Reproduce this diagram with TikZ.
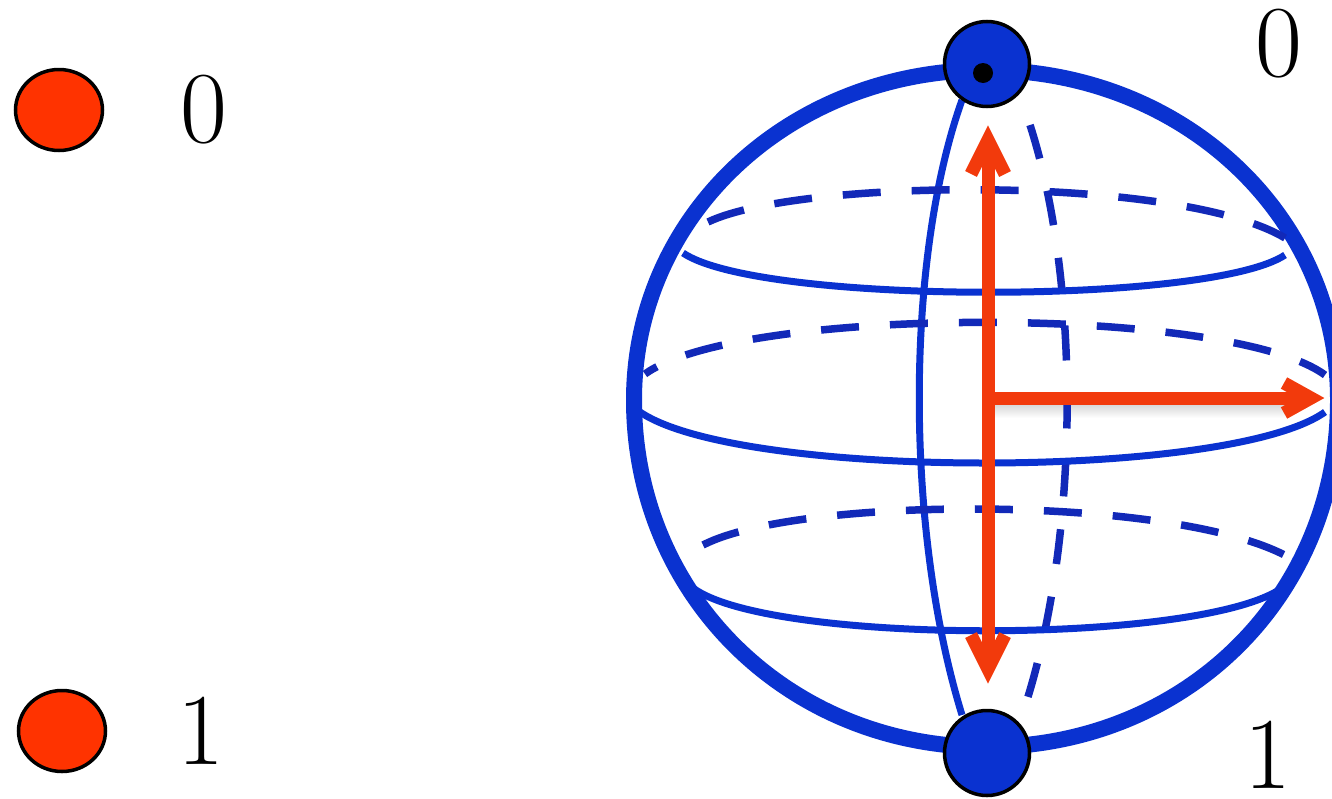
\documentclass[tikz,border=0pt]{standalone}
\usepackage{fontspec}
\setmainfont{Latin Modern Roman}
\usetikzlibrary{shapes.geometric}
\definecolor{sblue}{HTML}{0A32D0}
\definecolor{dblue}{HTML}{1229B8}
\definecolor{sred}{HTML}{F23A0C}
\definecolor{dotred}{HTML}{FF3300}
\tikzset{
 x=1pt,y=-1pt,
 outer/.style={draw=sblue,line width=16pt},
 thinline/.style={draw=sblue,line width=7pt},
 dsh/.style={draw=dblue,line width=7.5pt,dash pattern=on 38pt off 31pt},
 mdsh/.style={draw=dblue,line width=7.5pt,dash pattern=on 35pt off 33pt},
 pole/.style={circle,draw=black,line width=3.5pt,fill=sblue,minimum size=85pt,inner sep=0pt},
 bit/.style={ellipse,draw=black,line width=3.5pt,fill=dotred,minimum width=87pt,minimum height=81pt,inner sep=0pt},
 lab/.style={inner sep=0pt,font=\fontsize{102}{102}\selectfont},
 arr/.style={draw=sred,line width=13pt},
 barb/.style={draw=sred,line width=13pt,miter limit=10},
}
\begin{document}
\begin{tikzpicture}
\useasboundingbox (0,0) rectangle (1332,798);
\node[bit] (b0) at (59,110) {};
\node[bit] (b1) at (62,731) {};
\node[lab] (l0) at (204,110) {0};
\node[lab] (l1) at (201,731) {1};
\node[lab] (t0) at (1279,44) {0};
\node[lab] (t1) at (1268,755) {1};
\coordinate (c) at (988,398);
\shade[top color=gray!30,bottom color=white] (995,405) rectangle (1285,418);
\draw[outer] (634,400) .. controls (634,215) and (790,70) .. (986,70)
  .. controls (1182,70) and (1338,215) .. (1338,400)
  .. controls (1338,598) and (1184,747) .. (986,747)
  .. controls (788,747) and (634,595) .. (634,400) -- cycle;
% meridians
\draw[thinline] (962,100) .. controls (905,260) and (905,530) .. (962,715);
\draw[mdsh] (1030,125) .. controls (1080,280) and (1080,530) .. (1027,700);
% latitude back
\draw[dsh] (708,222) .. controls (800,178) and (1180,175) .. (1285,238);
\draw[dsh,dash phase=24pt] (645,374) .. controls (740,305) and (1230,305) .. (1325,375);
\draw[dsh] (703,545) .. controls (800,495) and (1180,495) .. (1290,558);
% latitude front
\draw[thinline] (683,253) .. controls (760,305) and (1210,305) .. (1285,255);
\draw[thinline] (640,412) .. controls (740,480) and (1230,480) .. (1325,412);
\draw[thinline] (693,588) .. controls (770,645) and (1200,645) .. (1282,588);
\node[pole] (np) at (987,64) {};
\node[pole] (sp) at (987,753) {};
\fill[black] (983,73) circle (10);
\coordinate (up) at (988,140);
\coordinate (dn) at (988,669);
\coordinate (rt) at (1311,398);
\draw[arr] (c) -- (up);
\draw[arr] (c) -- (dn);
\draw[arr] (c) -- (rt);
\draw[barb] (971,174) -- (up) -- (1005,174);
\draw[barb] (971,635) -- (dn) -- (1005,635);
\draw[barb] (1284,383) -- (rt) -- (1284,413);
\end{tikzpicture}
\end{document}
